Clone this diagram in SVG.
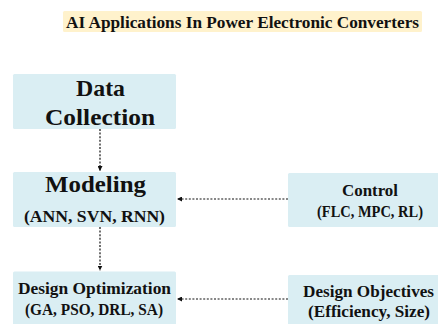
<svg xmlns="http://www.w3.org/2000/svg" width="438" height="324" viewBox="0 0 438 324">
<defs>
<style>
.box{fill:#DAEEF3;}
.t{font-family:"Liberation Serif","DejaVu Serif",serif;font-weight:bold;fill:#111;text-anchor:middle;}
.c{stroke:#111;stroke-width:1.2;stroke-dasharray:2,1.6;fill:none;}
</style>
<marker id="ah" viewBox="0 0 6 6" refX="6" refY="3" markerWidth="5" markerHeight="5" orient="auto" markerUnits="userSpaceOnUse">
<path d="M0,0 L6,3 L0,6 Z" fill="#111"/>
</marker>
</defs>
<rect width="438" height="324" fill="#fff"/>
<g id="title">
<rect x="63" y="11" width="359" height="21" rx="1.5" fill="#FFF2CC"/>
<text class="t" x="242.5" y="27.5" font-size="17.5" textLength="353" lengthAdjust="spacingAndGlyphs">AI Applications In Power Electronic Converters</text>
</g>
<g id="data-collection">
<rect class="box" x="13" y="74" width="163" height="55" rx="1.5"/>
<text class="t" x="100.5" y="96" font-size="22.5" textLength="49" lengthAdjust="spacingAndGlyphs">Data</text>
<text class="t" x="100" y="124.5" font-size="22.5" textLength="110" lengthAdjust="spacingAndGlyphs">Collection</text>
</g>
<g id="modeling">
<rect class="box" x="13" y="172" width="163" height="55" rx="1.5"/>
<text class="t" x="95.5" y="191.5" font-size="22.5" textLength="101" lengthAdjust="spacingAndGlyphs">Modeling</text>
<text class="t" x="94.5" y="222" font-size="17" textLength="141" lengthAdjust="spacingAndGlyphs">(ANN, SVN, RNN)</text>
</g>
<g id="design-optimization">
<rect class="box" x="13" y="271.5" width="163" height="54" rx="1.5"/>
<text class="t" x="94.5" y="294" font-size="16.5" textLength="153" lengthAdjust="spacingAndGlyphs">Design Optimization</text>
<text class="t" x="94" y="315" font-size="16.5" textLength="138" lengthAdjust="spacingAndGlyphs">(GA, PSO, DRL, SA)</text>
</g>
<g id="control">
<rect class="box" x="288" y="173" width="152" height="54" rx="1.5"/>
<text class="t" x="370" y="196" font-size="16.5" textLength="56" lengthAdjust="spacingAndGlyphs">Control</text>
<text class="t" x="370" y="217" font-size="16.5" textLength="106" lengthAdjust="spacingAndGlyphs">(FLC, MPC, RL)</text>
</g>
<g id="design-objectives">
<rect class="box" x="288" y="275" width="152" height="51" rx="1.5"/>
<text class="t" x="368.5" y="297" font-size="16.5" textLength="131" lengthAdjust="spacingAndGlyphs">Design Objectives</text>
<text class="t" x="369" y="317" font-size="16.5" textLength="122" lengthAdjust="spacingAndGlyphs">(Efficiency, Size)</text>
</g>
<g id="connectors">
<line class="c" x1="100" y1="129" x2="100" y2="171" marker-end="url(#ah)"/>
<line class="c" x1="100" y1="227" x2="100" y2="270.5" marker-end="url(#ah)"/>
<line class="c" x1="288" y1="199" x2="177" y2="199" marker-end="url(#ah)"/>
<line class="c" x1="288" y1="299" x2="177" y2="299" marker-end="url(#ah)"/>
</g>
</svg>
